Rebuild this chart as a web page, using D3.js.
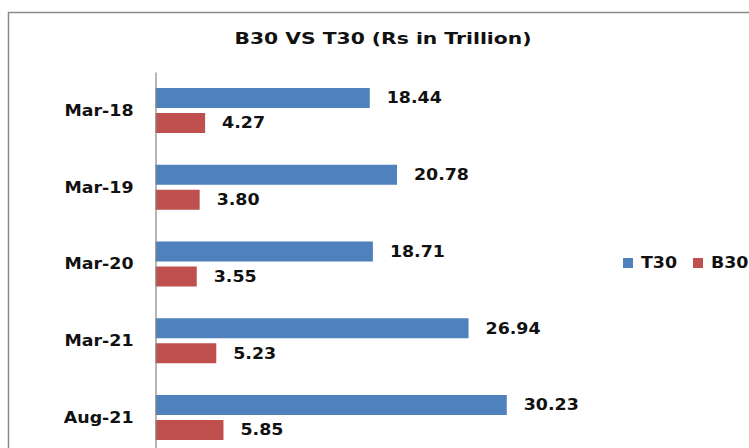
<!DOCTYPE html>
<html><head>
<meta charset="utf-8">
<title>B30 VS T30</title>
<script src="https://d3js.org/d3.v7.min.js"></script>
<style>
  body { margin: 0; background: #fff; }
  svg text { font-family: "DejaVu Sans", sans-serif; font-weight: bold; fill: #111; }
</style>
</head>
<body>
<svg id="chart" width="749" height="448"></svg>
<script>
// data
const categories = ["Mar-18", "Mar-19", "Mar-20", "Mar-21", "Aug-21"];
const t30 = [18.44, 20.78, 18.71, 26.94, 30.23];
const b30 = [4.27, 3.80, 3.55, 5.23, 5.85];
const seriesNames = ["T30", "B30"];
const seriesColors = ["#4F81BD", "#C0504D"];

const svg = d3.select("#chart");
const stretch = 1.16;   // the reference text looks wide, so stretch glyphs a bit

// outer chart frame (runs off the right and bottom edge)
svg.append("rect")
   .attr("x", 8.5).attr("y", 12.5)
   .attr("width", 800).attr("height", 500)
   .attr("fill", "none")
   .attr("stroke", "#8a8a8a")
   .attr("stroke-width", 1.5);

// title
svg.append("text")
   .attr("transform", "translate(383,43.5) scale(1.27,1)")
   .attr("text-anchor", "middle")
   .style("font-size", "16px")
   .text("B30 VS T30 (Rs in Trillion)");

// scales
let x = d3.scaleLinear().domain([0, 35]).range([155.5, 155.5 + 35 * 11.62]);
let y0 = d3.scaleBand().domain(categories).range([72, 72 + 5 * 76.75]);
let y1 = d3.scaleBand().domain(seriesNames).range([16, 61]).paddingInner(0.2);

let rows = categories.map((c, i) => ({ cat: c, vals: [t30[i], b30[i]] }));

let groups = svg.selectAll("g.cat").data(rows)
  .join("g")
  .attr("class", "cat")
  .attr("transform", d => `translate(0,${y0(d.cat)})`);

let bars = groups.selectAll("g.bar")
  .data(d => d.vals.map((v, j) => ({ name: seriesNames[j], v: v, color: seriesColors[j] })))
  .join("g")
  .attr("class", "bar");

bars.append("rect")
    .attr("x", x(0))
    .attr("y", d => y1(d.name))
    .attr("width", d => x(d.v) - x(0))
    .attr("height", y1.bandwidth())
    .attr("fill", d => d.color);

bars.append("text")
    .attr("transform", d => `translate(${x(d.v) + 17},${y1(d.name) + y1.bandwidth() / 2}) scale(${stretch},1)`)
    .attr("dy", "0.36em")
    .style("font-size", "15px")
    .text(d => d.v.toFixed(2));

// category axis
let yAxis = svg.append("g")
  .attr("transform", "translate(155.5,0)")
  .call(d3.axisLeft(y0).tickSize(0).tickPadding(0));

yAxis.select(".domain").attr("stroke", "#868686").attr("stroke-width", 1.2);
yAxis.selectAll(".tick text")
  .attr("x", null)
  .attr("dy", "0.36em")
  .attr("transform", `translate(-22,0) scale(${stretch},1)`)
  .style("font-family", "DejaVu Sans")
  .style("font-weight", "bold")
  .style("font-size", "15px")
  .attr("fill", "#111");

// legend
let legend = svg.selectAll("g.legend").data(seriesNames)
  .join("g")
  .attr("class", "legend")
  .attr("transform", (d, i) => `translate(${623 + i * 70},263)`);

legend.append("rect")
  .attr("x", 0).attr("y", -5)
  .attr("width", 10).attr("height", 10)
  .attr("fill", (d, i) => seriesColors[i]);

legend.append("text")
  .attr("transform", `translate(18,0) scale(${stretch},1)`)
  .attr("dy", "0.36em")
  .style("font-size", "15px")
  .text(d => d);
</script>
</body></html>
